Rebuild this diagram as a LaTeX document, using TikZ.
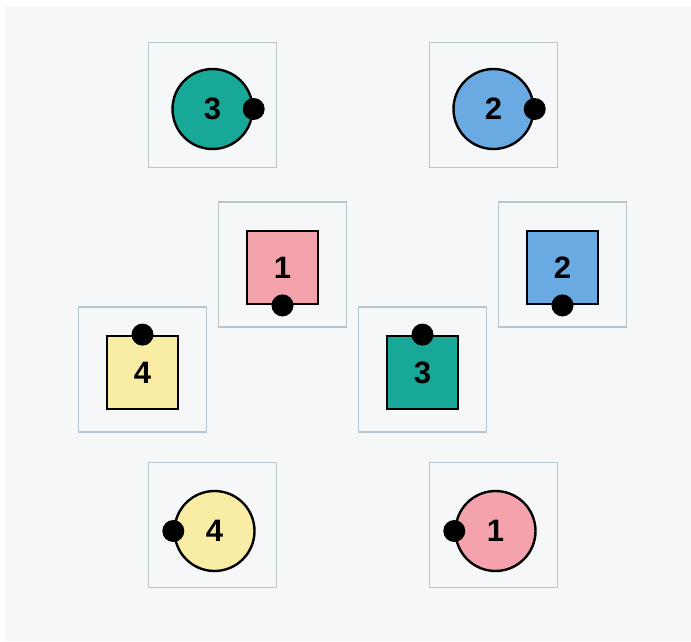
\documentclass[tikz,border=0pt]{standalone}
\usepackage{fontspec}
\setmainfont{Liberation Sans}
\usepackage{xcolor}
\usepackage{tikz}
\definecolor{PanelBg}{HTML}{F5F7F8}
\definecolor{FrameGray}{HTML}{B8C5CD}
\definecolor{TealPiece}{HTML}{17A898}
\definecolor{BluePiece}{HTML}{6AAAE2}
\definecolor{PinkPiece}{HTML}{F4A3AC}
\definecolor{YellowPiece}{HTML}{F9EDA6}

\begin{document}
\begin{tikzpicture}[
  x=1pt, y=-1pt,
  tile/.style={draw=FrameGray, line width=1.5pt, minimum width=128pt, minimum height=125pt, inner sep=0pt},
  disc/.style={circle, draw, line width=2.4pt, minimum size=80pt, inner sep=0pt, font=\fontsize{31}{32}\selectfont\bfseries},
  block/.style={rectangle, draw, line width=2.8pt, minimum width=71pt, minimum height=73pt, inner sep=0pt, font=\fontsize{31}{32}\selectfont\bfseries},
  pin/.style={circle, fill=black, minimum size=22pt, inner sep=0pt}
]
\useasboundingbox (0,0) rectangle (691,641);
\fill[PanelBg] (5,7) rectangle (691,641);

% frames
\node[tile] (t1) at (212.5,105) {};
\node[tile] (t2) at (493.5,105) {};
\node[tile] (t3) at (282.5,264.5) {};
\node[tile] (t4) at (562.5,264.5) {};
\node[tile] (t5) at (142.5,369.5) {};
\node[tile] (t6) at (422.5,369.5) {};
\node[tile] (t7) at (212.5,525) {};
\node[tile] (t8) at (493.5,525) {};

% pieces
\node[disc, fill=TealPiece] (c3) at ([yshift=-4pt]t1.center) {3};
\node[disc, fill=BluePiece] (c2) at ([yshift=-4pt]t2.center) {2};
\node[block, fill=PinkPiece] (s1) at ([yshift=-3pt]t3.center) {1};
\node[block, fill=BluePiece] (s2) at ([yshift=-3pt]t4.center) {2};
\node[block, fill=YellowPiece] (s4) at ([yshift=-3pt]t5.center) {4};
\node[block, fill=TealPiece] (s3) at ([yshift=-3pt]t6.center) {3};
\node[disc, fill=YellowPiece] (c4) at ([xshift=2pt,yshift=-6pt]t7.center) {4};
\node[disc, fill=PinkPiece] (c1) at ([xshift=2pt,yshift=-6pt]t8.center) {1};

% pins
\node[pin] (p3) at (c3.east) {};
\node[pin] (p2) at (c2.east) {};
\node[pin] (q1) at (s1.south) {};
\node[pin] (q2) at (s2.south) {};
\node[pin] (q4) at (s4.north) {};
\node[pin] (q3) at (s3.north) {};
\node[pin] (p4) at (c4.west) {};
\node[pin] (p1) at (c1.west) {};
\end{tikzpicture}
\end{document}
